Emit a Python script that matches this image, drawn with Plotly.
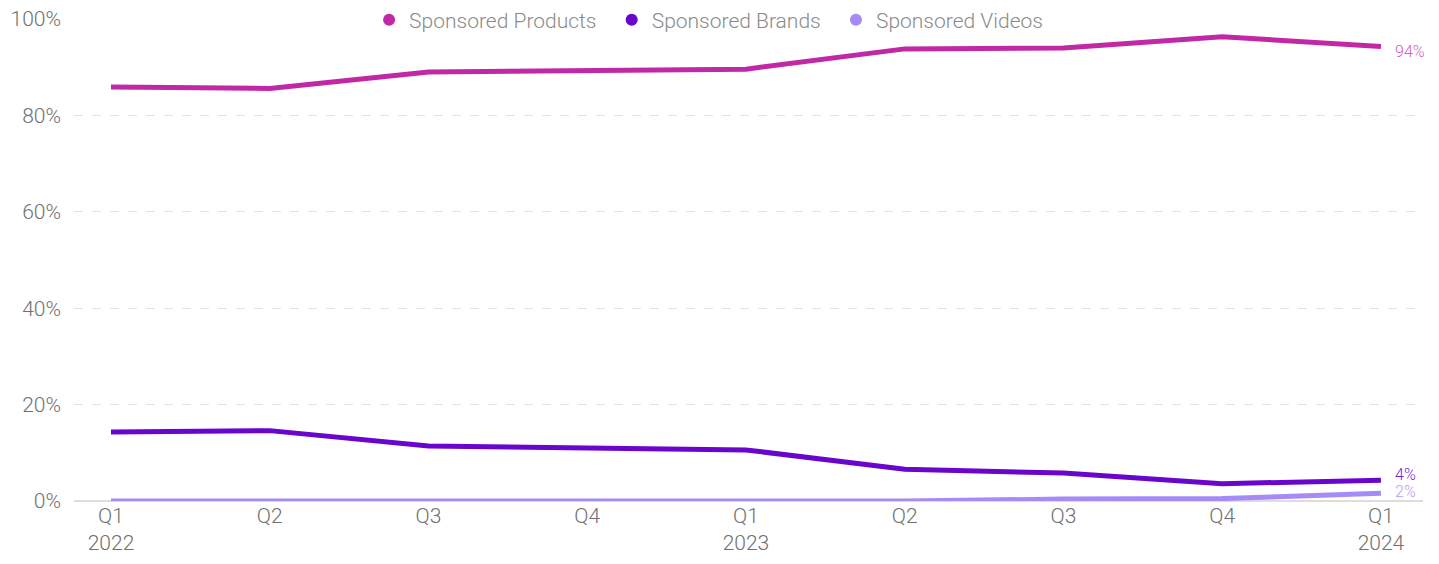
import plotly.graph_objects as go

quarters = ["Q1<br>2022", "Q2", "Q3", "Q4", "Q1<br>2023", "Q2", "Q3", "Q4", "Q1<br>2024"]
sponsored_products = [85.9, 85.6, 89.0, 89.3, 89.6, 93.8, 94.0, 96.3, 94.3]
sponsored_brands = [14.3, 14.6, 11.4, 11.0, 10.6, 6.6, 5.8, 3.6, 4.3]
sponsored_videos = [0.0, 0.0, 0.0, 0.0, 0.0, 0.0, 0.4, 0.5, 1.6]
end_labels = ["94%", "4%", "2%"]

series = [
    ("Sponsored Products", sponsored_products, "#C028A6", "#D45CC4", end_labels[0], -5),
    ("Sponsored Brands", sponsored_brands, "#6A06CC", "#7A1FD6", end_labels[1], 6),
    ("Sponsored Videos", sponsored_videos, "#A68BF8", "#B49CF9", end_labels[2], 2),
]

x = list(range(len(quarters)))
fig = go.Figure()
for name, vals, col, lcol, lab, ys in series:
    fig.add_trace(go.Scatter(
        x=x, y=vals, mode="lines", name=name,
        line=dict(color=col, width=5, shape="linear"),
        showlegend=False, hoverinfo="skip", cliponaxis=False,
    ))
    fig.add_trace(go.Scatter(
        x=[None], y=[None], mode="markers", name=name + "\u00a0\u00a0",
        marker=dict(color=col, size=12, symbol="circle"),
        showlegend=True,
    ))
    fig.add_annotation(
        x=x[-1], y=vals[-1], text=lab, showarrow=False,
        xanchor="left", xshift=12, yanchor="middle", yshift=ys,
        font=dict(family="Roboto", size=16, color=lcol, weight=300),
    )

fig.update_layout(
    width=1439, height=564,
    margin=dict(l=66, r=24, t=11, b=71, autoexpand=False),
    paper_bgcolor="white", plot_bgcolor="white",
    font=dict(family="Roboto", color="#707070", size=20, weight=300),
    legend=dict(orientation="h", x=0.4745, xanchor="center",
                yref="container", y=1 - 12 / 564, yanchor="middle",
                font=dict(size=21, color="#8a8a8a", weight=300), itemsizing="constant",
                bgcolor="rgba(255,255,255,0.9)", tracegroupgap=0, itemwidth=30),
    xaxis=dict(
        tickmode="array", tickvals=x, ticktext=quarters,
        range=[-0.233, 8.265], showgrid=False, zeroline=False, automargin=False,
        showline=False, ticks="", ticklabeloverflow="allow",
        tickfont=dict(size=21, color="#707070", weight=300),
    ),
    yaxis=dict(
        range=[0, 100], tickvals=[0, 20, 40, 60, 80, 100],
        ticktext=["0%", "20%", "40%", "60%", "80%", "100%"], automargin=False,
        showgrid=True, gridcolor="#e3e3e3", griddash="dash", gridwidth=1.2,
        zeroline=True, zerolinecolor="#dddddd", zerolinewidth=2,
        ticks="", ticklabelstandoff=12, ticklabeloverflow="allow",
        tickfont=dict(size=21, color="#707070", weight=300),
    ),
)

fig.write_html("out.html")
